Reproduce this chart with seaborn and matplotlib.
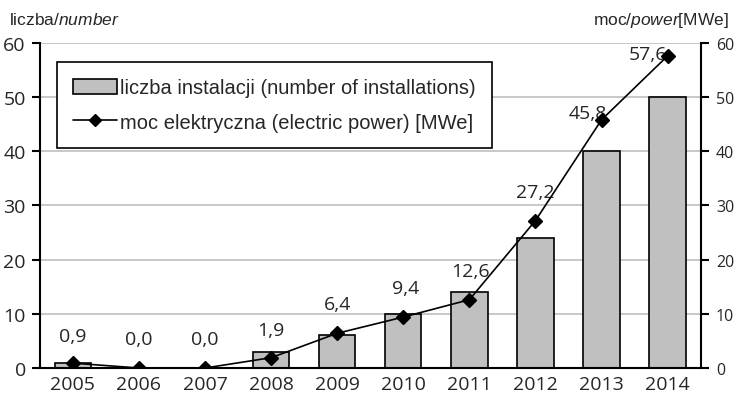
import matplotlib
matplotlib.use("Agg")
import matplotlib.pyplot as plt
import seaborn as sns
import pandas as pd

# data
years = ["2005", "2006", "2007", "2008", "2009", "2010", "2011", "2012", "2013", "2014"]
installations = [1, 0, 0, 3, 6, 10, 14, 24, 40, 50]
power_mwe = [0.9, 0.0, 0.0, 1.9, 6.4, 9.4, 12.6, 27.2, 45.8, 57.6]
power_labels = ["0,9", "0,0", "0,0", "1,9", "6,4", "9,4", "12,6", "27,2", "45,8", "57,6"]

sns.set_style("white")
plt.rcParams["font.family"] = ["Open Sans", "DejaVu Sans"]
plt.rcParams["mathtext.fontset"] = "custom"
plt.rcParams["mathtext.rm"] = "Liberation Sans"
plt.rcParams["mathtext.it"] = "Liberation Sans:italic"

df = pd.DataFrame({"year": years, "count": installations, "power": power_mwe})

fig = plt.figure(figsize=(7.36, 4.1), dpi=100)
ax = fig.add_axes([0.054, 0.1, 0.898, 0.793])

sns.barplot(data=df, x="year", y="count", color="#c0c0c0", edgecolor="black",
            linewidth=1.2, width=0.55, saturation=1, ax=ax, zorder=2,
            label="liczba instalacji (number of installations)")
if ax.get_legend() is not None:
    ax.get_legend().remove()
ax.set_ylim(0, 60)
ax.set_xlim(-0.5, 9.5)
ax.set_yticks(range(0, 61, 10))
ax.yaxis.grid(True, color="#bfbfbf", linewidth=1.2, zorder=0)
ax.set_axisbelow(True)
ax.set_xlabel("")
ax.set_ylabel("")
for s in ["top", "right"]:
    ax.spines[s].set_visible(False)
for s in ["left", "bottom"]:
    ax.spines[s].set_linewidth(1.5)
    ax.spines[s].set_color("black")
ax.set_xticks(range(10))
ax.set_xticklabels(years, fontsize=14)
ax.tick_params(axis="x", length=0, pad=5)
ax.set_xticks([i + 0.5 for i in range(-1, 10)], minor=True)
ax.tick_params(axis="x", which="minor", length=6, width=1.5, direction="out", color="black")
ax.tick_params(axis="y", labelsize=14, length=6, width=1.5, direction="out", color="black",
               left=True, pad=4)

ax2 = ax.twinx()
ax2.plot(range(10), power_mwe, color="black", linewidth=1.2, marker="D",
         markersize=7, zorder=4,
         label="moc elektryczna (electric power) [MWe]")
ax2.set_ylim(0, 60)
ax2.set_yticks(range(0, 61, 10))
ax2.tick_params(axis="y", labelsize=11.5, length=6, width=1.5, direction="out", color="black",
                right=True, pad=5)
for s in ["top", "left", "bottom"]:
    ax2.spines[s].set_visible(False)
ax2.spines["right"].set_linewidth(1.5)
ax2.spines["right"].set_color("black")

# label offsets in pixels (dx, dy)
offsets_px = [(0, 27), (0, 29), (0, 29), (0, 28), (0, 29), (2, 29), (1, 29), (0, 29), (-14, 7), (-20, 2)]
for i, (v, lab) in enumerate(zip(power_mwe, power_labels)):
    dx, dy = offsets_px[i]
    ax2.annotate(lab, (i, v), xytext=(dx * 0.72, dy * 0.72), textcoords="offset points",
                 ha="center", va="center", fontsize=14)

h1, l1 = ax.get_legend_handles_labels()
h2, l2 = ax2.get_legend_handles_labels()
leg = ax2.legend(h1 + h2, l1 + l2, loc="upper left", bbox_to_anchor=(0.026, 0.94),
                 frameon=True, fancybox=False, edgecolor="black", framealpha=1,
                 prop={"family": "Liberation Sans", "size": 14.5},
                 handlelength=2.2, handleheight=0.8, borderpad=0.8, labelspacing=0.75,
                 handletextpad=0.15, borderaxespad=0)
leg.get_frame().set_linewidth(1.2)
leg.legend_handles[1].set_markersize(6)

fig.text(0.012, 0.939, r"liczba/$\it{number}$", fontsize=12.5, family="Liberation Sans",
         ha="left", va="baseline")
fig.text(0.99, 0.939, r"moc/$\it{power}$[MWe]", fontsize=12.5, family="Liberation Sans",
         ha="right", va="baseline")

fig.savefig("out.png", dpi=100)
